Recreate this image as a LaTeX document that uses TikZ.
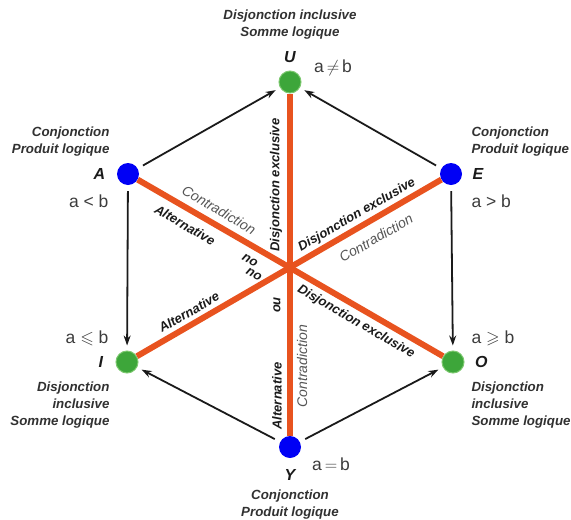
\documentclass[tikz,border=0pt]{standalone}
\usepackage{amssymb}
\usepackage{fontspec}
\setmainfont{Liberation Sans}
\usetikzlibrary{arrows.meta,positioning}
\definecolor{Dot}{HTML}{0000F5}
\definecolor{Leaf}{HTML}{3DA63A}
\definecolor{LeafRim}{HTML}{7CC86F}
\definecolor{Rust}{HTML}{E8531F}
\definecolor{Ink}{HTML}{1A1A1A}
\definecolor{Mute}{HTML}{555555}

\begin{document}
\begin{tikzpicture}[x=1pt,y=-1pt,
  vtx/.style={circle,minimum size=22pt,inner sep=0pt},
  blue/.style={vtx,fill=Dot},
  green/.style={vtx,fill=Leaf,draw=LeafRim,line width=1pt},
  bar/.style={Rust,line width=6pt},
  arr/.style={Ink,line width=1.8pt,-{Stealth[length=10pt,width=7pt]},shorten <=6pt,shorten >=5pt},
  head/.style={font=\fontsize{13.3}{17}\selectfont\bfseries\itshape,Ink!90},
  rel/.style={font=\fontsize{17.5}{19}\selectfont,Ink!85},
  tag/.style={font=\fontsize{16}{18}\selectfont\bfseries\itshape,Ink},
  strong/.style={font=\fontsize{13}{14}\selectfont\bfseries\itshape,Ink},
  soft/.style={font=\fontsize{14}{16}\selectfont\itshape,Mute}]
  \useasboundingbox (0,0) rectangle (571,520);
  % the six corners
  \node[green] (U) at (290,82) {};
  \node[blue] (A) at (128,174) {};
  \node[blue] (E) at (451,174) {};
  \node[green] (I) at (127,362) {};
  \node[green] (O) at (453,362) {};
  \node[blue] (Y) at (290,447) {};
  % diagonals
  \draw[bar] (A) -- (O);
  \draw[bar] (E) -- (I);
  \draw[bar] (U) -- (Y);
  % implications
  \foreach \a/\b in {A/U,E/U,A/I,E/O,Y/I,Y/O}
    \draw[arr] (\a) -- (\b);
  % corner letters and relations
  \node[tag,above=4pt of U] (tU) {U};
  \node[tag,left=8pt of A] (tA) {A};
  \node[tag,right=7pt of E] (tE) {E};
  \node[tag,left=9pt of I] (tI) {I};
  \node[tag,right=7pt of O] (tO) {O};
  \node[tag,below=8pt of Y] (tY) {Y};
  \node[rel] (rU) at (333,68) {a$\,\neq\,$b};
  \node[rel,anchor=east] (rA) at (112,201) {a < b};
  \node[rel,anchor=west] (rE) at (468,201) {a > b};
  \node[rel,anchor=east] (rI) at (112,338) {a $\leqslant$ b};
  \node[rel,anchor=west] (rO) at (468,338) {a $\geqslant$ b};
  \node[rel] (rY) at (331,464) {a$\,=\,$b};
  % headings
  \node[head,align=center] (hU) at (290,25) {Disjonction inclusive\\Somme logique};
  \node[head,align=right,anchor=east] (hA) at (113,142) {Conjonction\\Produit logique};
  \node[head,align=left,anchor=west] (hE) at (468,142) {Conjonction\\Produit logique};
  \node[head,align=right,anchor=north east] (hI) at (113,378) {Disjonction\\inclusive\\Somme logique};
  \node[head,align=left,anchor=north west] (hO) at (468,378) {Disjonction\\inclusive\\Somme logique};
  \node[head,align=center] (hY) at (290,505) {Conjonction\\Produit logique};
  % words on the diagonals
  \node[soft,rotate=-30] (c1) at (219,210) {Contradiction};
  \node[strong,rotate=-30] (a1) at (185,225) {Alternative};
  \node[strong,rotate=150] (o1) at (250,260) {ou};
  \node[strong,rotate=150] (o2) at (254,274) {ou};
  \node[strong,rotate=90] (d1) at (276,185) {Disjonction exclusive};
  \node[strong,rotate=30] (d2) at (357,215) {Disjonction exclusive};
  \node[soft,rotate=30] (c2) at (376,238) {Contradiction};
  \node[strong,rotate=-30] (d3) at (356,322) {Disjonction exclusive};
  \node[strong,rotate=30] (a2) at (189,312) {Alternative};
  \node[strong,rotate=90] (o3) at (277,305) {ou};
  \node[strong,rotate=90] (a3) at (277,396) {Alternative};
  \node[soft,rotate=90] (c3) at (302,366) {Contradiction};
\end{tikzpicture}
\end{document}
